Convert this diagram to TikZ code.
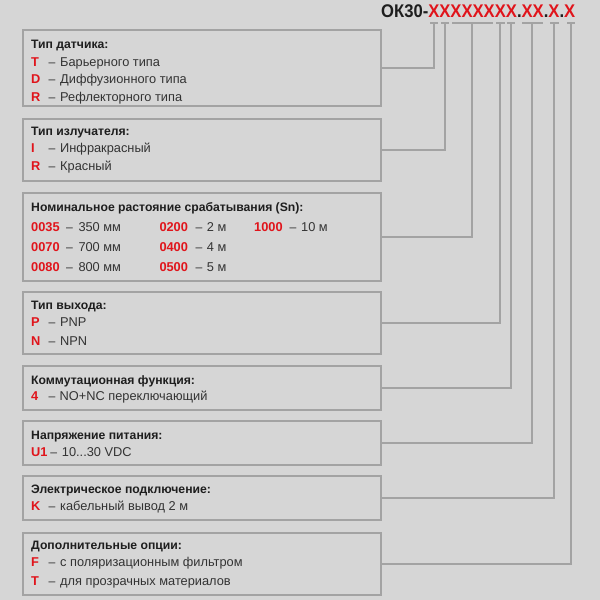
\documentclass[tikz,border=0pt]{standalone}
\usepackage{fontspec}
\setmainfont{Liberation Sans}
\usepackage{graphicx}
\definecolor{bgc}{HTML}{D6D6D6}
\definecolor{linec}{HTML}{A3A3A3}
\definecolor{redc}{HTML}{E0141B}
\definecolor{headc}{HTML}{1E1E1E}
\definecolor{txtc}{HTML}{333333}
\tikzset{
  frame/.style={draw=linec, line width=2pt, inner sep=0pt, outer sep=0pt, anchor=north west, minimum width=358pt},
  hd/.style={anchor=base west, inner sep=0pt, font=\bfseries\fontsize{12.2}{14}\selectfont, text=headc},
  code/.style={anchor=base west, inner sep=0pt, font=\bfseries\fontsize{12.8}{14}\selectfont, text=redc},
  item/.style={anchor=base west, inner sep=0pt, font=\fontsize{12.8}{14}\selectfont, text=txtc},
  dsh/.style={anchor=base west, inner sep=0pt, font=\fontsize{12.2}{14}\selectfont, text=txtc},
  link/.style={draw=linec, line width=2pt},
  tick/.style={draw=linec, line width=2pt},
}
\begin{document}
\begin{tikzpicture}[x=1pt,y=-1pt]
\fill[bgc] (0,0) rectangle (600,600);
\useasboundingbox (0,0) rectangle (600,600);

% title
\node[anchor=base west, inner sep=0pt, text=headc] (title) at (381,17)
  {\resizebox{194pt}{12.8pt}{\bfseries ОК30-\textcolor{redc}{XXXXXXXX}.\textcolor{redc}{XX}.\textcolor{redc}{X}.\textcolor{redc}{X}}};

% underline segments and connector ends
\coordinate (s1a) at (430,23); \coordinate (s1b) at (438,23); \coordinate (t1) at (434,23);
\coordinate (s2a) at (441,23); \coordinate (s2b) at (449,23); \coordinate (t2) at (445,23);
\coordinate (s3a) at (452,23); \coordinate (s3b) at (493,23); \coordinate (t3) at (472,23);
\coordinate (s4a) at (496,23); \coordinate (s4b) at (505,23); \coordinate (t4) at (500,23);
\coordinate (s5a) at (507,23); \coordinate (s5b) at (515,23); \coordinate (t5) at (511,23);
\coordinate (s6a) at (522,23); \coordinate (s6b) at (543,23); \coordinate (t6) at (532,23);
\coordinate (s7a) at (550,23); \coordinate (s7b) at (559,23); \coordinate (t7) at (554,23);
\coordinate (s8a) at (567,23); \coordinate (s8b) at (575,23); \coordinate (t8) at (571,23);
\foreach \i in {1,...,8} {\draw[tick] (s\i a) -- (s\i b);}

% boxes
\node[frame, minimum height=76pt] (b1) at (23,30) {};
\node[frame, minimum height=62pt] (b2) at (23,119) {};
\node[frame, minimum height=88pt] (b3) at (23,193) {};
\node[frame, minimum height=62pt] (b4) at (23,292) {};
\node[frame, minimum height=44pt] (b5) at (23,366) {};
\node[frame, minimum height=44pt] (b6) at (23,421) {};
\node[frame, minimum height=44pt] (b7) at (23,476) {};
\node[frame, minimum height=62pt] (b8) at (23,533) {};

% connectors
\foreach \i in {1,...,8} {\draw[link] (b\i.east) -| (t\i);}

% box 1
\node[hd] (h1) at (31,48) {Тип датчика:};
\node[code] (c1a) at (31,66) {T};   \node[dsh] (d1a) at (48.5,66) {–};   \node[item] (v1a) at (60,66) {Барьерного типа};
\node[code] (c1b) at (31,83.5) {D}; \node[dsh] (d1b) at (48.5,83.5) {–}; \node[item] (v1b) at (60,83.5) {Диффузионного типа};
\node[code] (c1c) at (31,101) {R};  \node[dsh] (d1c) at (48.5,101) {–};  \node[item] (v1c) at (60,101) {Рефлекторного типа};

% box 2
\node[hd] (h2) at (31,135.3) {Тип излучателя:};
\node[code] (c2a) at (31,152.7) {I}; \node[dsh] (d2a) at (48.5,152.7) {–}; \node[item] (v2a) at (60,152.7) {Инфракрасный};
\node[code] (c2b) at (31,170.7) {R}; \node[dsh] (d2b) at (48.5,170.7) {–}; \node[item] (v2b) at (60,170.7) {Красный};

% box 3
\node[hd] (h3) at (31,211.7) {Номинальное растояние срабатывания (Sn):};
\node[code] (c3a) at (31,231) {0035}; \node[dsh] (d3a) at (66,231) {–}; \node[item] (v3a) at (78.3,231) {350 мм};
\node[code] (c3b) at (31,251) {0070}; \node[dsh] (d3b) at (66,251) {–}; \node[item] (v3b) at (78.3,251) {700 мм};
\node[code] (c3c) at (31,271) {0080}; \node[dsh] (d3c) at (66,271) {–}; \node[item] (v3c) at (78.3,271) {800 мм};
\node[code] (c3d) at (159.3,231) {0200}; \node[dsh] (d3d) at (195.5,231) {–}; \node[item] (v3d) at (206.7,231) {2 м};
\node[code] (c3e) at (159.3,251) {0400}; \node[dsh] (d3e) at (195.5,251) {–}; \node[item] (v3e) at (206.7,251) {4 м};
\node[code] (c3f) at (159.3,271) {0500}; \node[dsh] (d3f) at (195.5,271) {–}; \node[item] (v3f) at (206.7,271) {5 м};
\node[code] (c3g) at (254,231) {1000}; \node[dsh] (d3g) at (289.5,231) {–}; \node[item] (v3g) at (301,231) {10 м};

% box 4
\node[hd] (h4) at (31,309) {Тип выхода:};
\node[code] (c4a) at (31,326.7) {P}; \node[dsh] (d4a) at (48.5,326.7) {–}; \node[item] (v4a) at (60,326.7) {PNP};
\node[code] (c4b) at (31,345) {N};   \node[dsh] (d4b) at (48.5,345) {–};   \node[item] (v4b) at (60,345) {NPN};

% box 5
\node[hd] (h5) at (31,384) {Коммутационная функция:};
\node[code] (c5a) at (31,400.7) {4}; \node[dsh] (d5a) at (48.5,400.7) {–}; \node[item] (v5a) at (59.5,400.7) {NO+NC переключающий};

% box 6
\node[hd] (h6) at (31,439) {Напряжение питания:};
\node[code] (c6a) at (31,456) {U1}; \node[dsh] (d6a) at (50.2,456) {–}; \node[item] (v6a) at (61.7,456) {10...30 VDC};

% box 7
\node[hd] (h7) at (31,493.3) {Электрическое подключение:};
\node[code] (c7a) at (31,510.7) {K}; \node[dsh] (d7a) at (48.5,510.7) {–}; \node[item] (v7a) at (60,510.7) {кабельный вывод 2 м};

% box 8
\node[hd] (h8) at (31,549.3) {Дополнительные опции:};
\node[code] (c8a) at (31,566.7) {F}; \node[dsh] (d8a) at (48.5,566.7) {–}; \node[item] (v8a) at (60,566.7) {с поляризационным фильтром};
\node[code] (c8b) at (31,585) {T};   \node[dsh] (d8b) at (48.5,585) {–};   \node[item] (v8b) at (60,585) {для прозрачных материалов};
\end{tikzpicture}
\end{document}
